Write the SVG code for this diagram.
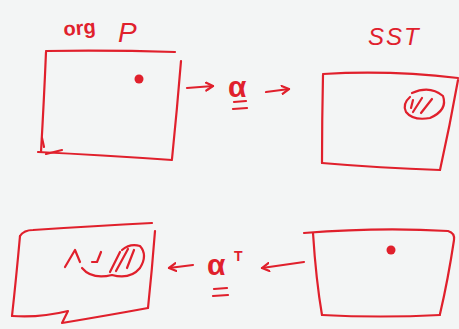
<svg xmlns="http://www.w3.org/2000/svg" width="459" height="329" viewBox="0 0 459 329">
<style>
.s{fill:none;stroke:#e0202c;stroke-width:2.2;stroke-linecap:round;stroke-linejoin:round}
.d{fill:#e0202c}
.t{fill:#e0202c;font-family:"Liberation Sans",Arial,sans-serif}
</style>
<defs>
<marker id="ah" markerWidth="10" markerHeight="10" refX="8" refY="5" orient="auto" markerUnits="userSpaceOnUse">
<path d="M1,1 L8,5 L1,9" fill="none" stroke="#e0202c" stroke-width="2.2" stroke-linecap="round" stroke-linejoin="round"/>
</marker>
</defs>
<rect width="459" height="329" fill="#f3f5f5"/>
<g id="org-p">
<text class="t" x="64" y="36" font-size="20" font-weight="bold" transform="rotate(-5 64 36)">org</text>
<text class="t" x="118" y="42" font-size="28" font-style="italic">P</text>
<path class="s" d="M46,51 Q110,50 175,52"/>
<path class="s" d="M46,52 Q44,100 41,152"/>
<path class="s" d="M38,152 Q100,155 172,160"/>
<path class="s" d="M181,61 Q177,110 172,159"/>
<path class="s" d="M42,138 L44,147 M46,154 L62,150"/>
<circle class="d" cx="139" cy="79" r="4.5"/>
</g>
<g id="sst">
<text class="t" x="368" y="45" font-size="24" font-style="italic" letter-spacing="2">SST</text>
<path class="s" d="M323,74 Q390,70 458,78"/>
<path class="s" d="M323,75 Q322,120 322,163"/>
<path class="s" d="M322,163 Q380,168 440,170"/>
<path class="s" d="M458,80 Q450,125 440,170"/>
<path class="s" d="M412,93 Q430,85 443,96 Q448,110 430,118 Q413,121 406,112 Q402,104 410,97"/>
<path class="s" d="M413,100 L411,108 M422,98 L413,112 M432,99 L421,113"/>
</g>
<g id="bottom-right">
<path class="s" d="M304,233 Q380,227 448,231 Q455,233 454,240"/>
<path class="s" d="M313,233 Q316,280 322,315"/>
<path class="s" d="M322,315 Q380,318 440,315"/>
<path class="s" d="M454,240 Q448,280 440,314"/>
<circle class="d" cx="391" cy="250" r="4.5"/>
</g>
<g id="bottom-left">
<path class="s" d="M20,236 Q24,230 33,230 Q95,226 152,223"/>
<path class="s" d="M20,236 Q16,280 12,316"/>
<path class="s" d="M12,316 Q40,318 68,311 L62,323 Q110,315 148,308"/>
<path class="s" d="M155,231 Q152,270 148,308"/>
<path class="s" d="M65,267 L75,250 L80,262"/>
<path class="s" d="M92,262 L97,262 L101,252"/>
<path class="s" d="M82,268 Q92,280 112,275 Q130,280 140,268 Q148,255 140,246 Q130,243 122,250"/>
<path class="s" d="M110,272 L120,252 M116,271 L128,249 M127,268 L134,250"/>
</g>
<g id="connectors">
<path class="s" d="M187,88 L213,86" marker-end="url(#ah)"/>
<text class="t" x="228" y="97" font-size="30" font-weight="bold">α</text>
<path class="s" d="M234,102 L246,101 M233,109 L247,108"/>
<path class="s" d="M266,92 L289,89" marker-end="url(#ah)"/>
<path class="s" d="M304,262 L262,268" marker-end="url(#ah)"/>
<text class="t" x="207" y="275" font-size="30" font-weight="bold">α</text>
<text class="t" x="234" y="261" font-size="14" font-weight="bold">T</text>
<path class="s" d="M214,289 L227,288 M213,296 L228,295"/>
<path class="s" d="M193,265 L169,268" marker-end="url(#ah)"/>
</g>
</svg>
